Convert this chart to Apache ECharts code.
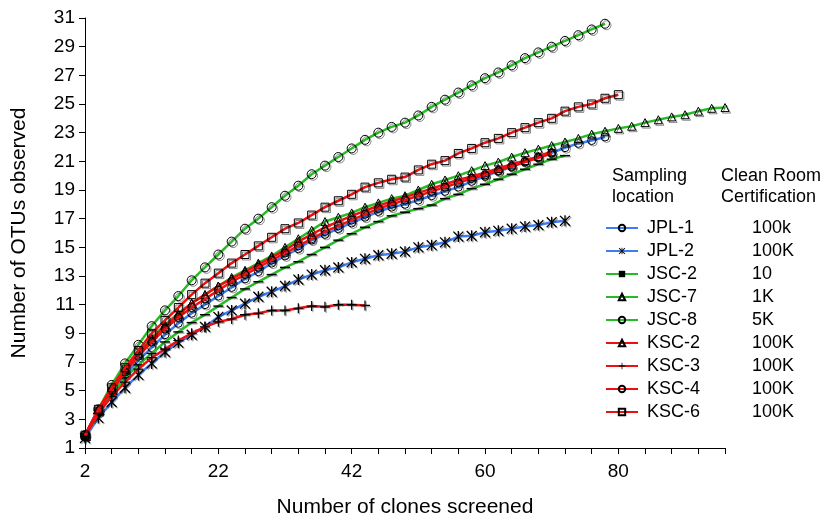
<!DOCTYPE html>
<html>
<head>
<meta charset="utf-8">
<script src="https://cdn.jsdelivr.net/npm/echarts@6/dist/echarts.min.js"></script>
<style>html,body{margin:0;padding:0;background:#fff}#c{width:830px;height:523px}</style>
</head>
<body>
<div id="c"></div>
<script>
// x categories: number of clones screened (one point every 2 clones)
const xCategories = ['2','4','6','8','10','12','14','16','18','20','22','24','26','28','30','32','34','36','38','40','42','44','46','48','50','52','54','56','58','60','62','64','66','68','70','72','74','76','78','80','82','84','86','88','90','92','94','96','98'];
// x tick labels as printed, and the categories they sit under
const xTickLabels = ['2','22','42','60','80'];
const xTickLabelAt = ['2','22','42','62','82'];
// y tick labels
const yTicks = [1,3,5,7,9,11,13,15,17,19,21,23,25,27,29,31];

// series names and clean-room certifications
const names = ['JPL-1','JPL-2','JSC-2','JSC-7','JSC-8','KSC-2','KSC-3','KSC-4','KSC-6'];
const certs = ['100k','100K','10','1K','5K','100K','100K','100K','100K'];

// OTUs observed
const JPL1 = [1.8,3.5,4.9,6.1,7.1,8.0,8.9,9.7,10.4,11.0,11.6,12.2,12.8,13.3,13.9,14.4,14.9,15.5,15.9,16.3,16.7,17.1,17.5,17.8,18.0,18.3,18.6,18.9,19.2,19.6,19.95,20.3,20.6,21.0,21.3,21.6,21.95,22.25,22.45,22.7];
const JPL2 = [1.7,3.1,4.2,5.2,6.1,6.9,7.7,8.35,8.9,9.45,10.15,10.6,11.07,11.55,11.9,12.3,12.75,13.1,13.4,13.6,13.95,14.2,14.45,14.55,14.7,15.0,15.15,15.35,15.75,15.8,16.05,16.15,16.3,16.45,16.55,16.75,16.85];
const JSC2 = [1.8,3.4,4.8,5.9,6.8,7.6,8.4,9.1,9.75,10.3,10.9,11.5,12.1,12.6,13.1,13.6,14.0,14.5,15.0,15.5,15.95,16.4,16.8,17.2,17.45,17.7,17.95,18.4,18.7,19.1,19.4,19.75,20.1,20.45,20.8,21.15,21.4];
const JSC7 = [1.9,3.6,5.1,6.5,7.6,8.7,9.6,10.4,11.1,11.7,12.3,12.9,13.4,13.9,14.4,15.0,15.6,16.2,16.8,17.1,17.4,17.8,18.1,18.4,18.6,19.0,19.4,19.7,20.0,20.35,20.7,20.95,21.3,21.6,21.85,22.1,22.35,22.6,22.9,23.1,23.3,23.45,23.7,23.9,24.1,24.25,24.5,24.7,24.75];
const JSC8 = [1.9,3.7,5.4,6.9,8.2,9.5,10.6,11.6,12.7,13.6,14.5,15.4,16.3,17.0,17.8,18.6,19.3,20.1,20.7,21.3,21.9,22.5,23.0,23.4,23.7,24.2,24.8,25.3,25.8,26.3,26.8,27.2,27.7,28.2,28.6,29.0,29.4,29.8,30.2,30.6];
const KSC2 = [1.9,3.7,5.2,6.5,7.6,8.6,9.5,10.3,11.1,11.7,12.3,12.8,13.3,13.8,14.3,14.8,15.4,15.9,16.4,16.8,17.2,17.55,17.9,18.2,18.5,18.8,19.1,19.4,19.7,19.95,20.2,20.5,20.8,21.05,21.35,21.7];
const KSC3 = [1.8,3.4,4.6,5.6,6.5,7.3,7.9,8.5,9.0,9.45,9.8,10.0,10.3,10.4,10.6,10.6,10.75,10.9,10.85,11.0,11.0,10.95];
const KSC4 = [1.9,3.6,5.0,6.3,7.4,8.4,9.3,10.1,10.8,11.4,12.0,12.6,13.1,13.6,14.1,14.6,15.1,15.6,16.1,16.5,16.9,17.3,17.7,18.0,18.3,18.6,18.9,19.2,19.5,19.8,20.05,20.35,20.65,20.95,21.25,21.55];
const KSC6 = [1.9,3.7,5.2,6.6,7.8,9.0,9.9,10.8,11.7,12.5,13.2,13.9,14.5,15.1,15.7,16.3,16.7,17.25,17.8,18.25,18.7,19.2,19.5,19.75,19.9,20.4,20.8,21.05,21.55,21.9,22.3,22.6,23.0,23.35,23.7,24.0,24.5,24.8,25.0,25.4,25.65];

const seriesValues = [JPL1, JPL2, JSC2, JSC7, JSC8, KSC2, KSC3, KSC4, KSC6];

const BLUE = '#3d7df7', GREEN = '#27bb27', RED = '#ee1010';
const FONT = 'Liberation Sans, Arial, Helvetica, sans-serif';

const ASTERISK = 'path://M4.4,0 L5.6,0 L5.6,10 L4.4,10 Z M0.92,0.08 L9.92,9.08 L9.08,9.92 L0.08,0.92 Z M0.08,9.08 L9.08,0.08 L9.92,0.92 L0.92,9.92 Z';
const PLUS = 'path://M4.4,0 L5.6,0 L5.6,4.4 L10,4.4 L10,5.6 L5.6,5.6 L5.6,10 L4.4,10 L4.4,5.6 L0,5.6 L0,4.4 L4.4,4.4 Z';
const DASH = 'path://M0,0 L10,0 L10,3.5 L0,3.5 Z';

const hollow = {color: 'rgba(255,255,255,0)', borderColor: '#000', borderWidth: 1,
  shadowColor: 'rgba(0,0,0,0.45)', shadowOffsetX: 1.5, shadowOffsetY: 1.5, shadowBlur: 0};
const solid = {color: '#000', borderWidth: 0,
  shadowColor: 'rgba(0,0,0,0.35)', shadowOffsetX: 1.2, shadowOffsetY: 1.2, shadowBlur: 0};

const styles = [
  {c: BLUE,  sym: 'circle',   size: 8,       item: hollow},
  {c: BLUE,  sym: ASTERISK,   size: 11,      item: solid},
  {c: GREEN, sym: DASH,       size: [10, 4], item: solid},
  {c: GREEN, sym: 'triangle', size: 8,       item: hollow},
  {c: GREEN, sym: 'circle',   size: 9,       item: hollow},
  {c: RED,   sym: 'triangle', size: 8,       item: hollow},
  {c: RED,   sym: PLUS,       size: 10,      item: solid},
  {c: RED,   sym: 'circle',   size: 8,       item: hollow},
  {c: RED,   sym: 'rect',     size: 8,       item: hollow}
];

const series = names.map((n, k) => ({
  name: n,
  type: 'line',
  data: seriesValues[k],
  symbol: styles[k].sym,
  symbolSize: styles[k].size,
  symbolKeepAspect: true,
  showSymbol: true,
  showAllSymbol: true,
  smooth: false,
  lineStyle: {color: styles[k].c, width: 2.5},
  itemStyle: styles[k].item,
  emphasis: {disabled: true},
  z: 2 + k
}));

const chart = echarts.init(document.getElementById('c'), null, {renderer: 'canvas'});
chart.setOption({
  animation: false,
  backgroundColor: '#fff',
  grid: {left: 85, right: 105, top: 18, bottom: 73, containLabel: false},
  xAxis: {
    type: 'category',
    data: xCategories,
    boundaryGap: false,
    name: 'Number of clones screened',
    nameLocation: 'middle',
    nameGap: 49,
    nameTextStyle: {fontFamily: FONT, fontSize: 21, color: '#000'},
    axisLine: {lineStyle: {color: '#000', width: 1}},
    axisTick: {show: true, interval: 1, length: 6, inside: false, lineStyle: {color: '#000'}},
    axisLabel: {
      interval: (idx, val) => xTickLabelAt.indexOf(val) >= 0,
      formatter: (val) => { const j = xTickLabelAt.indexOf(val); return j >= 0 ? xTickLabels[j] : ''; },
      margin: 14, fontFamily: FONT, fontSize: 19, color: '#000'
    },
    splitLine: {show: false}
  },
  yAxis: {
    type: 'value',
    min: 1, max: 31,
    name: 'Number of OTUs observed',
    nameLocation: 'middle',
    nameGap: 55,
    nameRotate: 90,
    nameTextStyle: {fontFamily: FONT, fontSize: 21, color: '#000'},
    axisLine: {show: true, lineStyle: {color: '#000', width: 1}},
    axisTick: {show: true, length: 6, inside: false, customValues: yTicks, lineStyle: {color: '#000'}},
    axisLabel: {customValues: yTicks, margin: 10, fontFamily: FONT, fontSize: 19, color: '#000'},
    splitLine: {show: false}
  },
  legend: {
    data: names,
    orient: 'vertical',
    left: 605,
    top: 219,
    padding: 0,
    itemWidth: 32,
    itemHeight: 8,
    itemGap: 5,
    selectedMode: false,
    formatter: (n) => '{n|' + n + '}{c|' + certs[names.indexOf(n)] + '}',
    textStyle: {
      fontFamily: FONT, fontSize: 18, color: '#000',
      rich: {
        n: {fontFamily: FONT, fontSize: 18, color: '#000', width: 105, lineHeight: 18, padding: [0, 0, 0, 4]},
        c: {fontFamily: FONT, fontSize: 18, color: '#000', lineHeight: 18}
      }
    }
  },
  graphic: [
    {type: 'text', left: 612, top: 166, style: {text: 'Sampling\nlocation', font: '18px ' + FONT, lineHeight: 21, fill: '#000'}},
    {type: 'text', left: 721, top: 166, style: {text: 'Clean Room\nCertification', font: '18px ' + FONT, lineHeight: 21, fill: '#000'}}
  ],
  series: series
});
</script>
</body>
</html>
